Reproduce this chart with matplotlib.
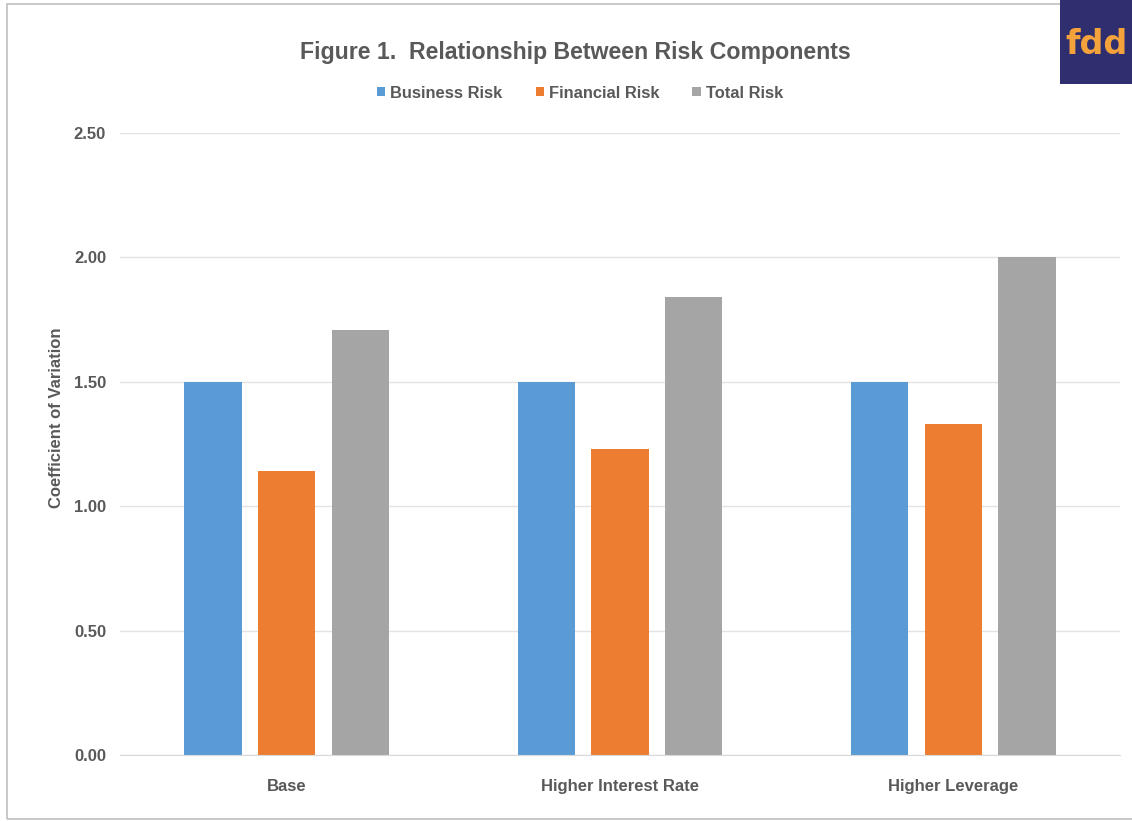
import numpy as np
import matplotlib
matplotlib.use('Agg')
from matplotlib import pyplot as plt
from matplotlib.patches import Rectangle

# values
scenarios = ['Base', 'Higher Interest Rate', 'Higher Leverage']
business_risk = [1.50, 1.50, 1.50]
financial_risk = [1.14, 1.23, 1.33]
total_risk = [1.71, 1.84, 2.00]
series_names = ['Business Risk', 'Financial Risk', 'Total Risk']
yticks = [0.0, 0.5, 1.0, 1.5, 2.0, 2.5]

colors = ['#5b9bd5', '#ed7d31', '#a5a5a5']
text_col = '#595959'
plt.rcParams['font.family'] = ['Liberation Sans', 'DejaVu Sans']

W, H = 1132, 821
fig = plt.figure(figsize=(W / 100, H / 100), dpi=100)

# outer frame of the chart image
fig.patches.append(Rectangle((7 / W, 2 / H), 1.2, (817 - 2) / H, transform=fig.transFigure,
                             fill=False, edgecolor='#bfbfbf', linewidth=1.2))

ax = fig.add_axes([120 / W, 1 - 755 / H, 1000 / W, 622 / H])
x = np.arange(len(scenarios))
bw = 0.172
offs = [-0.221, 0.0, 0.221]
for vals, off, c, name in zip([business_risk, financial_risk, total_risk], offs, colors, series_names):
    ax.bar(x + off, vals, width=bw, color=c, label=name, zorder=2)

ax.set_xlim(-0.5, 2.5)
ax.set_ylim(0, 2.5)
ax.set_yticks(yticks)
ax.set_yticklabels(['%.2f' % v for v in yticks])
ax.set_xticks(x)
ax.set_xticklabels(scenarios)
ax.grid(axis='y', color='#e3e3e3', linewidth=1.0, zorder=0)
for s in ['top', 'right', 'left']:
    ax.spines[s].set_visible(False)
ax.spines['bottom'].set_color('#d9d9d9')
ax.tick_params(length=0, colors=text_col, labelsize=12)
ax.tick_params(axis='y', pad=10)
ax.tick_params(axis='x', pad=17)
for lbl in ax.get_xticklabels() + ax.get_yticklabels():
    lbl.set_fontweight('bold')
ax.set_ylabel('Coefficient of Variation', fontsize=12, fontweight='bold', color=text_col)
ax.yaxis.set_label_coords(-56 / 1000, 0.542)

fig.text(575 / W, 1 - 52 / H, 'Figure 1.  Relationship Between Risk Components',
         ha='center', va='center', fontsize=16.7, fontweight='bold', color=text_col)

leg = fig.legend(loc='center', bbox_to_anchor=(580 / W, 1 - 93 / H), ncol=3, frameon=False,
                 handlelength=0.5, handleheight=0.5, handletextpad=0.3, columnspacing=2.0,
                 prop={'weight': 'bold', 'size': 11.9})
for t in leg.get_texts():
    t.set_color(text_col)

# fdd logo box in the top right corner
fig.patches.append(Rectangle((1060 / W, 1 - 84 / H), 80 / W, 84 / H, transform=fig.transFigure,
                             facecolor='#2f2e6e', edgecolor='none'))
fig.text(1096 / W, 1 - 44 / H, 'fdd', ha='center', va='center', fontsize=24,
         fontweight='bold', color='#f4a23c', family=['DejaVu Sans'])

fig.savefig('out.png', dpi=100)
